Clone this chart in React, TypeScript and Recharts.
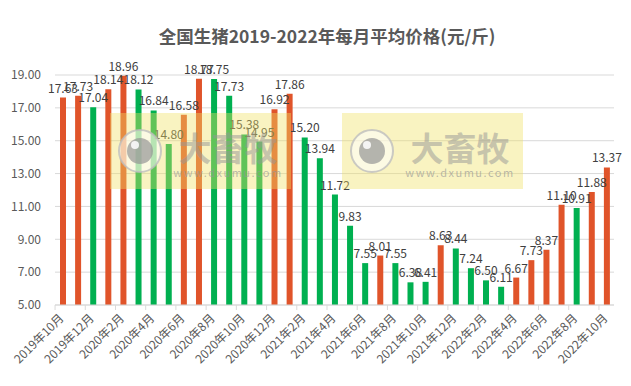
import { BarChart, Bar, XAxis, YAxis, CartesianGrid, LabelList, Cell } from 'recharts'

const months = [
  '2019年10月', '2019年11月', '2019年12月',
  '2020年1月', '2020年2月', '2020年3月', '2020年4月', '2020年5月', '2020年6月',
  '2020年7月', '2020年8月', '2020年9月', '2020年10月', '2020年11月', '2020年12月',
  '2021年1月', '2021年2月', '2021年3月', '2021年4月', '2021年5月', '2021年6月',
  '2021年7月', '2021年8月', '2021年9月', '2021年10月', '2021年11月', '2021年12月',
  '2022年1月', '2022年2月', '2022年3月', '2022年4月', '2022年5月', '2022年6月',
  '2022年7月', '2022年8月', '2022年9月', '2022年10月',
]

const prices = [
  17.63, 17.73, 17.04,
  18.14, 18.96, 18.12, 16.84, 14.8, 16.58,
  18.77, 18.75, 17.73, 15.38, 14.95, 16.92,
  17.86, 15.2, 13.94, 11.72, 9.83, 7.55,
  8.01, 7.55, 6.38, 6.41, 8.63, 8.44,
  7.24, 6.5, 6.11, 6.67, 7.73, 8.37,
  11.1, 10.91, 11.88, 13.37,
]

// 1 = price went up (orange), 0 = went down (green), as coloured in the source
const rising = [
  1, 1, 0,
  1, 1, 0, 0, 0, 1,
  1, 0, 0, 0, 0, 1,
  1, 0, 0, 0, 0, 0,
  1, 0, 0, 0, 1, 0,
  0, 0, 0, 1, 1, 1,
  1, 0, 1, 1,
]

const yTicks = [5, 7, 9, 11, 13, 15, 17, 19]

const UP = '#E0542A'
const DOWN = '#00B050'
const FONT = '"Noto Sans CJK SC", "Noto Sans", sans-serif'

const data = months.map((m, i) => ({ month: m, price: prices[i], up: rising[i] }))

// eslint-disable-next-line @typescript-eslint/no-explicit-any
function MonthTick({ x, y, payload }: any) {
  return (
    <g>
      <line x1={x - 7.5} x2={x - 7.5} y1={y - 8} y2={y - 3} stroke="#d9d9d9" />
      <text
        x={x + 2}
        y={y + 6}
        textAnchor="end"
        fontSize={12}
        fill="#595959"
        fontFamily={FONT}
        transform={`rotate(-45 ${x + 2} ${y + 6})`}
      >
        {payload.value}
      </text>
    </g>
  )
}

function Watermark({ left }: { left: number }) {
  return (
    <div
      style={{
        position: 'absolute',
        left,
        top: 113,
        width: 181,
        height: 76,
        background: 'rgba(240, 225, 100, 0.4)',
        pointerEvents: 'none',
      }}
    >
      <svg width={181} height={76} style={{ position: 'absolute', left: 0, top: 0 }}>
        <circle cx={30} cy={38} r={21} fill="rgba(255,255,255,0.55)" stroke="rgba(190,190,190,0.8)" strokeWidth={2} />
        <circle cx={30} cy={38} r={13} fill="rgba(150,150,150,0.7)" />
        <circle cx={25} cy={32} r={4} fill="rgba(255,255,255,0.85)" />
        <text x={118} y={48} textAnchor="middle" fontSize={33} fontWeight="bold" fill="rgba(150,150,150,0.5)" fontFamily={FONT}>
          大畜牧
        </text>
        <text x={118} y={64} textAnchor="middle" fontSize={11} letterSpacing={1.5} fill="rgba(150,150,150,0.65)" fontFamily={FONT}>
          www.dxumu.com
        </text>
      </svg>
    </div>
  )
}

export default function App() {
  return (
    <div style={{ position: 'fixed', left: 0, top: 0, width: 631, height: 386, background: '#fff', fontFamily: FONT }}>
      <div
        style={{
          position: 'absolute',
          top: 23,
          left: 0,
          width: 654,
          textAlign: 'center',
          fontSize: 17.5,
          fontWeight: 'bold',
          color: '#595959',
        }}
      >
        全国生猪2019-2022年每月平均价格(元/斤)
      </div>
      <BarChart width={631} height={386} data={data} margin={{ top: 75, right: 17, left: 5, bottom: 6 }}>
        <CartesianGrid vertical={false} stroke="#d9d9d9" />
        <XAxis
          dataKey="month"
          interval={1}
          height={75}
          axisLine={{ stroke: '#d9d9d9' }}
          tickLine={false}
          tick={<MonthTick />}
        />
        <YAxis
          width={50}
          domain={[5, 19]}
          ticks={yTicks}
          allowDataOverflow
          axisLine={false}
          tickLine={false}
          tickMargin={8}
          tickFormatter={(v) => v.toFixed(2)}
          tick={{ fontSize: 12, fill: '#595959', fontFamily: FONT }}
        />
        <Bar dataKey="price" barSize={6} isAnimationActive={false}>
          {data.map((d) => (
            <Cell key={d.month} fill={d.up ? UP : DOWN} />
          ))}
          <LabelList
            dataKey="price"
            position="top"
            offset={5}
            formatter={(v: number) => v.toFixed(2)}
            style={{ fontSize: 12, fill: '#404040', fontFamily: FONT }}
          />
        </Bar>
      </BarChart>
      <Watermark left={110} />
      <Watermark left={342} />
    </div>
  )
}
